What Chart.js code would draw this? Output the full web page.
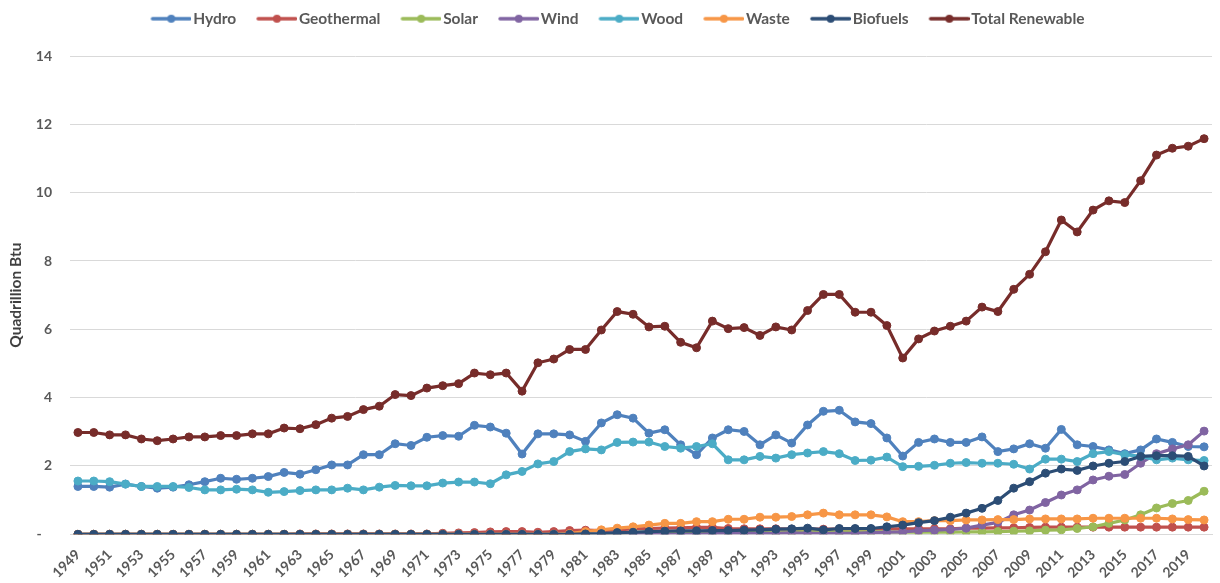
<!DOCTYPE html>
<html>
<head>
<meta charset="utf-8">
<script src="https://cdn.jsdelivr.net/npm/chart.js@4.4.1/dist/chart.umd.min.js"></script>
<style>
  html, body { margin: 0; padding: 0; background: #ffffff; }
  #wrap { width: 1220px; height: 583px; }
</style>
</head>
<body>
<div id="wrap"><canvas id="chart" width="1220" height="583"></canvas></div>
<script>
// U.S. renewable energy consumption by source, quadrillion Btu
const years = ['1949','1950','1951','1952','1953','1954','1955','1956','1957','1958',
  '1959','1960','1961','1962','1963','1964','1965','1966','1967','1968',
  '1969','1970','1971','1972','1973','1974','1975','1976','1977','1978',
  '1979','1980','1981','1982','1983','1984','1985','1986','1987','1988',
  '1989','1990','1991','1992','1993','1994','1995','1996','1997','1998',
  '1999','2000','2001','2002','2003','2004','2005','2006','2007','2008',
  '2009','2010','2011','2012','2013','2014','2015','2016','2017','2018',
  '2019','2020'];

const hydro = [1.40,1.40,1.38,1.47,1.40,1.35,1.38,1.45,1.54,1.64,
  1.61,1.64,1.69,1.81,1.76,1.89,2.03,2.03,2.33,2.33,
  2.65,2.60,2.84,2.89,2.87,3.19,3.14,2.96,2.35,2.94,
  2.94,2.91,2.72,3.26,3.50,3.40,2.96,3.06,2.62,2.33,
  2.82,3.06,3.01,2.62,2.91,2.67,3.20,3.60,3.63,3.29,
  3.24,2.82,2.29,2.69,2.79,2.69,2.69,2.85,2.42,2.50,
  2.65,2.52,3.07,2.62,2.57,2.47,2.36,2.47,2.79,2.69,
  2.57,2.56];

const geothermal = [0,0,0,0,0,0,0,0,0,0,
  0,0,0,0,0.01,0.01,0.01,0.01,0.01,0.01,
  0.01,0.01,0.01,0.03,0.04,0.05,0.07,0.08,0.08,0.06,
  0.08,0.11,0.12,0.11,0.13,0.16,0.17,0.18,0.19,0.20,
  0.20,0.17,0.16,0.16,0.16,0.15,0.15,0.15,0.15,0.15,
  0.15,0.16,0.16,0.16,0.16,0.16,0.18,0.18,0.19,0.19,
  0.20,0.21,0.21,0.21,0.21,0.21,0.21,0.21,0.21,0.21,
  0.21,0.21];

const solar = [0,0,0,0,0,0,0,0,0,0,
  0,0,0,0,0,0,0,0,0,0,
  0,0,0,0,0,0,0,0,0,0,
  0,0,0,0,0,0.06,0.06,0.06,0.06,0.06,
  0.06,0.06,0.06,0.06,0.06,0.07,0.07,0.07,0.07,0.07,
  0.07,0.07,0.06,0.06,0.06,0.06,0.07,0.07,0.08,0.09,
  0.10,0.12,0.13,0.17,0.22,0.32,0.42,0.57,0.77,0.90,
  0.99,1.26];

const wind = [0,0,0,0,0,0,0,0,0,0,
  0,0,0,0,0,0,0,0,0,0,
  0,0,0,0,0,0,0,0,0,0,
  0,0,0,0,0,0,0,0,0,0,
  0.02,0.03,0.03,0.03,0.03,0.04,0.03,0.03,0.03,0.03,
  0.05,0.06,0.07,0.11,0.12,0.14,0.18,0.27,0.35,0.57,
  0.71,0.93,1.15,1.30,1.59,1.70,1.75,2.08,2.36,2.50,
  2.62,3.02];

const wood = [1.56,1.56,1.54,1.47,1.40,1.40,1.40,1.37,1.30,1.30,
  1.32,1.30,1.23,1.25,1.28,1.30,1.30,1.35,1.30,1.38,
  1.43,1.42,1.42,1.50,1.53,1.53,1.48,1.74,1.84,2.06,
  2.13,2.42,2.50,2.47,2.69,2.70,2.70,2.57,2.52,2.57,
  2.65,2.18,2.18,2.28,2.23,2.33,2.38,2.42,2.36,2.16,
  2.17,2.26,1.98,1.99,2.02,2.08,2.10,2.08,2.08,2.05,
  1.91,2.20,2.20,2.13,2.36,2.42,2.33,2.28,2.18,2.23,
  2.18,2.16];

const waste = [0,0,0,0,0,0,0,0,0,0,
  0,0,0,0,0,0,0,0,0,0,
  0,0,0,0,0,0,0,0,0,0,
  0,0.02,0.08,0.13,0.18,0.22,0.27,0.32,0.32,0.37,
  0.37,0.44,0.44,0.50,0.50,0.52,0.57,0.62,0.57,0.57,
  0.57,0.51,0.37,0.37,0.40,0.40,0.42,0.42,0.43,0.43,
  0.45,0.45,0.45,0.45,0.47,0.47,0.47,0.47,0.47,0.45,
  0.43,0.42];

const biofuels = [0,0,0,0,0,0,0,0,0,0,
  0,0,0,0,0,0,0,0,0,0,
  0,0,0,0,0,0,0,0,0,0,
  0,0,0.01,0.02,0.05,0.06,0.08,0.09,0.10,0.10,
  0.11,0.11,0.12,0.13,0.15,0.16,0.18,0.13,0.17,0.17,
  0.17,0.22,0.27,0.34,0.40,0.50,0.62,0.76,0.99,1.35,
  1.54,1.79,1.91,1.87,2.00,2.08,2.13,2.28,2.30,2.30,
  2.28,2.00];

const totalRenewable = [2.98,2.98,2.91,2.91,2.79,2.74,2.79,2.85,2.85,2.89,
  2.89,2.94,2.94,3.11,3.09,3.21,3.40,3.45,3.65,3.75,
  4.09,4.06,4.28,4.35,4.41,4.72,4.67,4.72,4.19,5.02,
  5.13,5.41,5.41,5.98,6.52,6.44,6.07,6.09,5.62,5.46,
  6.24,6.02,6.05,5.82,6.07,5.98,6.55,7.02,7.02,6.50,
  6.50,6.11,5.16,5.72,5.95,6.09,6.24,6.65,6.52,7.17,
  7.61,8.27,9.20,8.85,9.49,9.76,9.71,10.35,11.10,11.30,
  11.36,11.58];

const seriesNames = ['Hydro','Geothermal','Solar','Wind','Wood','Waste','Biofuels','Total Renewable'];
const seriesValues = [hydro, geothermal, solar, wind, wood, waste, biofuels, totalRenewable];
const seriesColors = ['#4F81BD','#C0504D','#9BBB59','#8064A2','#4BACC6','#F79646','#2C4D75','#772C2A'];
const yTicks = [0, 2, 4, 6, 8, 10, 12, 14];

const TEXT_GREY = '#595959';
const FONT = 'Lato, "Liberation Sans", sans-serif';

// Legend marker: a short line with a dot in the middle
function makeLegendIcon(color) {
  const c = document.createElement('canvas');
  c.width = 56; c.height = 10;
  const g = c.getContext('2d');
  g.strokeStyle = color;
  g.lineWidth = 3.5;
  g.lineCap = 'round';
  g.beginPath();
  g.moveTo(17, 5);
  g.lineTo(54.5, 5);
  g.stroke();
  g.fillStyle = color;
  g.beginPath();
  g.arc(35.75, 5, 4, 0, Math.PI * 2);
  g.fill();
  return c;
}
const legendIcons = seriesColors.map(makeLegendIcon);

const datasets = seriesNames.map((name, i) => ({
  label: name,
  data: seriesValues[i],
  borderColor: seriesColors[i],
  backgroundColor: seriesColors[i],
  pointBackgroundColor: seriesColors[i],
  pointBorderColor: seriesColors[i],
  pointBorderWidth: 1,
  pointRadius: 4,
  borderWidth: 3.2,
  tension: 0,
  fill: false,
  order: seriesNames.length - i
}));

// Extra room under the legend, and a small rightward nudge of the legend row
const legendGap = {
  id: 'legendGap',
  beforeLayout(chart) {
    const lg = chart.legend;
    if (lg && !lg._gapPatched) {
      const fit = lg.fit;
      lg.fit = function () { fit.call(this); this.height += 19.5; };
      lg._gapPatched = true;
    }
  },
  afterLayout(chart) {
    const lg = chart.legend;
    if (lg) { lg.left += 3; lg.right += 3; }
  }
};

new Chart(document.getElementById('chart'), {
  type: 'line',
  data: { labels: years, datasets },
  options: {
    responsive: false,
    animation: false,
    devicePixelRatio: 1,
    layout: { padding: 0 },
    plugins: {
      tooltip: { enabled: false },
      legend: {
        position: 'top',
        labels: {
          usePointStyle: true,
          pointStyleWidth: 44,
          padding: 11,
          color: TEXT_GREY,
          font: { family: FONT, size: 15.5, weight: 'bold' },
          sort: (a, b) => a.datasetIndex - b.datasetIndex,
          generateLabels(chart) {
            const items = Chart.defaults.plugins.legend.labels.generateLabels(chart);
            items.forEach(it => { it.pointStyle = legendIcons[it.datasetIndex]; });
            return items;
          }
        }
      }
    },
    scales: {
      x: {
        type: 'category',
        offset: true,
        grid: { display: false },
        border: { display: true, color: '#D9D9D9' },
        ticks: {
          autoSkip: false,
          minRotation: 45,
          maxRotation: 45,
          padding: 4,
          color: TEXT_GREY,
          font: { family: FONT, size: 14, weight: 'bold' },
          callback: (v, idx) => (idx % 2 === 0 ? years[idx] : '')
        },
        afterFit(scale) { scale.height = 48.7; }
      },
      y: {
        min: yTicks[0],
        max: yTicks[yTicks.length - 1],
        grid: { color: '#D9D9D9', lineWidth: 1, drawTicks: false },
        border: { display: false },
        ticks: {
          stepSize: 2,
          padding: 18,
          color: TEXT_GREY,
          font: { family: FONT, size: 14, weight: 'bold' },
          callback: v => (v === 0 ? '-   ' : String(v))
        },
        title: {
          display: true,
          text: 'Quadrillion Btu',
          color: '#404040',
          font: { family: FONT, size: 15.5, weight: 'bold' },
          padding: { top: 7, bottom: 0 }
        },
        afterFit(scale) { scale.width = 70; }
      }
    }
  },
  plugins: [legendGap]
});
</script>
</body>
</html>
